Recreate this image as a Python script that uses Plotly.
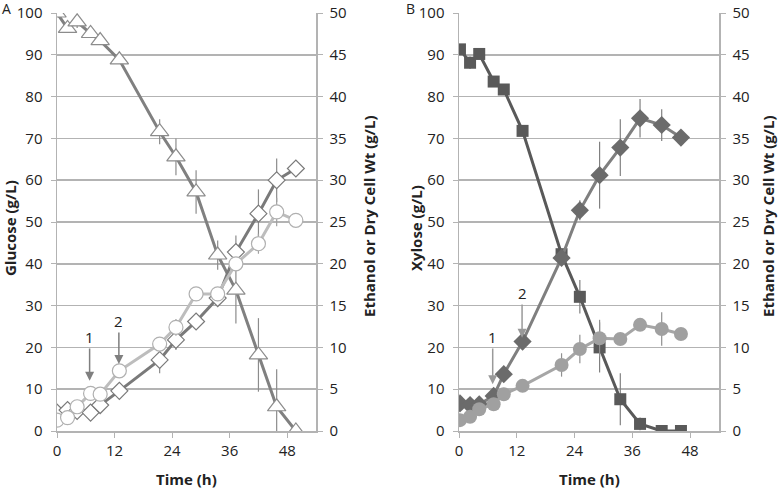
import plotly.graph_objects as go

# ---------------- Panel A data ----------------
time_a = [0, 2.2, 4.2, 7, 9, 13, 21.4, 24.8, 29, 33.5, 37.3, 42, 45.8, 49.8]
glucose = [100, 96.3, 97.9, 95.1, 93.4, 88.8, 71.6, 65.6, 57.2, 42.1, 33.7, 18.2, 5.8, 0]
glucose_err = [0, 0, 1.5, 0, 0, 0, 3, 4.4, 5.2, 3.5, 8, 8.8, 9, 0]
ethanol_a = [2.2, 2.5, 2.4, 2.2, 3.1, 4.8, 8.5, 10.9, 13.1, 15.9, 21.4, 26.0, 30.0, 31.4]
ethanol_a_err = [0, 0, 0, 0, 0, 0, 1.6, 1.2, 0, 1.0, 2.0, 2.9, 2.6, 0]
dcw_a = [1.3, 1.6, 2.9, 4.5, 4.4, 7.2, 10.4, 12.4, 16.4, 16.4, 20.0, 22.4, 26.2, 25.2]
dcw_a_err = [0, 0, 0, 0, 0, 0, 0, 1.0, 0, 0, 0, 1.2, 1.7, 0]

# ---------------- Panel B data ----------------
time_b = [0.2, 2.3, 4.2, 7.2, 9.3, 13.2, 21.3, 25.1, 29.2, 33.5, 37.6, 42.1, 46.1]
xylose = [91.3, 88.1, 90.2, 83.6, 81.7, 71.8, 42.3, 32.1, 20.0, 7.6, 1.7, 0, 0]
xylose_err = [0, 1.5, 0, 0, 0, 0, 0, 4, 6, 6.2, 1.5, 0, 0]
ethanol_b = [3.3, 3.1, 3.2, 4.2, 6.8, 10.7, 20.7, 26.4, 30.6, 33.9, 37.4, 36.6, 35.1]
ethanol_b_err = [0, 0, 0, 0, 0, 0, 0, 1.2, 4.0, 3.4, 2.3, 1.9, 0]
dcw_b = [1.3, 1.7, 2.6, 3.2, 4.4, 5.4, 7.9, 9.8, 11.1, 11.0, 12.7, 12.2, 11.6]
dcw_b_err = [0, 0, 0, 0, 0, 0, 1.4, 1.7, 2.2, 0, 0, 2.0, 0]

x_ticks = [0, 12, 24, 36, 48]
left_ticks = list(range(0, 101, 10))
right_ticks = list(range(0, 51, 5))

FONT = "Open Sans"
GRID = "#b3b3b3"

fig = go.Figure()

def err(vals, color):
    return dict(type="data", array=vals, visible=True, color=color, thickness=1.2, width=0)

# Panel A
fig.add_trace(go.Scatter(x=time_a, y=glucose, xaxis="x", yaxis="y", mode="lines+markers",
    line=dict(color="#808080", width=3),
    marker=dict(symbol="triangle-up", size=16, color="white", line=dict(color="#8c8c8c", width=1.2)),
    error_y=err(glucose_err, "#8c8c8c")))
fig.add_trace(go.Scatter(x=time_a, y=ethanol_a, xaxis="x", yaxis="y2", mode="lines+markers",
    line=dict(color="#7a7a7a", width=3),
    marker=dict(symbol="diamond", size=13, color="white", line=dict(color="#7a7a7a", width=1.2)),
    error_y=err(ethanol_a_err, "#8c8c8c")))
fig.add_trace(go.Scatter(x=time_a, y=dcw_a, xaxis="x", yaxis="y2", mode="lines+markers",
    line=dict(color="#bdbdbd", width=3),
    marker=dict(symbol="circle", size=14, color="white", line=dict(color="#b0b0b0", width=1.2)),
    error_y=err(dcw_a_err, "#a0a0a0")))

# Panel B
fig.add_trace(go.Scatter(x=time_b, y=xylose, xaxis="x2", yaxis="y3", mode="lines+markers",
    line=dict(color="#595959", width=3),
    marker=dict(symbol="square", size=12, color="#595959"),
    error_y=err(xylose_err, "#808080")))
fig.add_trace(go.Scatter(x=time_b, y=ethanol_b, xaxis="x2", yaxis="y4", mode="lines+markers",
    line=dict(color="#7f7f7f", width=3),
    marker=dict(symbol="diamond", size=14, color="#6b6b6b"),
    error_y=err(ethanol_b_err, "#808080")))
fig.add_trace(go.Scatter(x=time_b, y=dcw_b, xaxis="x2", yaxis="y4", mode="lines+markers",
    line=dict(color="#a6a6a6", width=3),
    marker=dict(symbol="circle", size=14, color="#a0a0a0"),
    error_y=err(dcw_b_err, "#909090")))

ydom = [(488 - 431) / 488, (488 - 13) / 488]
xa_dom = [57 / 780, 316 / 780]
xb_dom = [459 / 780, 719 / 780]

tickfont = dict(family=FONT, size=15, color="#222")

def xaxis(dom, anchor):
    return dict(domain=dom, anchor=anchor, range=[0, 54], tickvals=x_ticks,
                showgrid=False, zeroline=False, showline=True, linecolor=GRID, linewidth=1.5,
                ticks="outside", ticklen=5, tickcolor=GRID, tickwidth=1, tickfont=tickfont,
                automargin=False)

def yleft(anchor):
    return dict(domain=ydom, anchor=anchor, range=[0, 100], tickvals=left_ticks,
                showgrid=True, gridcolor=GRID, gridwidth=1.5, zeroline=False,
                showline=True, linecolor=GRID, linewidth=1.5,
                ticks="outside", ticklen=5, tickcolor=GRID, tickfont=tickfont,
                ticklabelstandoff=5, automargin=False)

def yright(anchor, over):
    return dict(domain=ydom, anchor=anchor, overlaying=over, side="right", range=[0, 50],
                tickvals=right_ticks, showgrid=False, zeroline=False,
                showline=True, linecolor=GRID, linewidth=1.5,
                ticks="outside", ticklen=5, tickcolor=GRID, tickfont=tickfont,
                ticklabelstandoff=4, automargin=False)

fig.update_layout(
    width=780, height=488, margin=dict(l=0, r=0, t=0, b=0, autoexpand=False),
    paper_bgcolor="white", plot_bgcolor="white", showlegend=False,
    font=dict(family=FONT, size=15, color="#222"),
    xaxis=xaxis(xa_dom, "y"), yaxis=yleft("x"), yaxis2=yright("x", "y"),
    xaxis2=xaxis(xb_dom, "y3"), yaxis3=yleft("x2"), yaxis4=yright("x2", "y3"),
)

bold = dict(family=FONT, size=15, color="#222")
ann = []
# axis titles
ann.append(dict(text="<b>Glucose (g/L)</b>", xref="paper", yref="paper", x=10 / 780, y=(488 - 228) / 488,
                textangle=-90, showarrow=False, font=bold, xanchor="center", yanchor="middle"))
ann.append(dict(text="<b>Ethanol or Dry Cell Wt (g/L)</b>", xref="paper", yref="paper", x=369 / 780, y=(488 - 217) / 488,
                textangle=-90, showarrow=False, font=bold, xanchor="center", yanchor="middle"))
ann.append(dict(text="<b>Xylose (g/L)</b>", xref="paper", yref="paper", x=416 / 780, y=(488 - 228) / 488,
                textangle=-90, showarrow=False, font=bold, xanchor="center", yanchor="middle"))
ann.append(dict(text="<b>Ethanol or Dry Cell Wt (g/L)</b>", xref="paper", yref="paper", x=768 / 780, y=(488 - 217) / 488,
                textangle=-90, showarrow=False, font=bold, xanchor="center", yanchor="middle"))
ann.append(dict(text="<b>Time (h)</b>", xref="paper", yref="paper", x=(57 + 316) / 2 / 780, y=(488 - 479) / 488,
                showarrow=False, font=bold, xanchor="center", yanchor="middle"))
ann.append(dict(text="<b>Time (h)</b>", xref="paper", yref="paper", x=(459 + 719) / 2 / 780, y=(488 - 479) / 488,
                showarrow=False, font=bold, xanchor="center", yanchor="middle"))
# panel labels
ann.append(dict(text="A", xref="paper", yref="paper", x=7 / 780, y=(488 - 8) / 488, showarrow=False,
                font=dict(family=FONT, size=14, color="#222"), xanchor="center", yanchor="middle"))
ann.append(dict(text="B", xref="paper", yref="paper", x=410 / 780, y=(488 - 8) / 488, showarrow=False,
                font=dict(family=FONT, size=14, color="#222"), xanchor="center", yanchor="middle"))

# arrows
def arrow(xr, yr, x, y_text, y_head, label, color):
    return dict(text=label, xref=xr, yref=yr, axref=xr, ayref=yr, x=x, y=y_head, ax=x, ay=y_text,
                showarrow=True, arrowhead=2, arrowsize=1.2, arrowwidth=1.5, arrowcolor=color,
                font=dict(family=FONT, size=15, color="#222"), standoff=0, startstandoff=0)

ann.append(arrow("x", "y", 6.8, 22.5, 12.0, "1", "#7f7f7f"))
ann.append(arrow("x", "y", 12.9, 26.3, 16.0, "2", "#7f7f7f"))
ann.append(arrow("x2", "y3", 7.0, 22.5, 11.2, "1", "#9a9a9a"))
ann.append(arrow("x2", "y3", 13.1, 33.0, 22.3, "2", "#9a9a9a"))

fig.update_layout(annotations=ann)
fig.write_html("out.html", config={"displayModeBar": False, "staticPlot": True},
               post_script="document.body.style.margin='0';document.body.style.padding='0';"
                           "document.documentElement.style.overflow='hidden';")
